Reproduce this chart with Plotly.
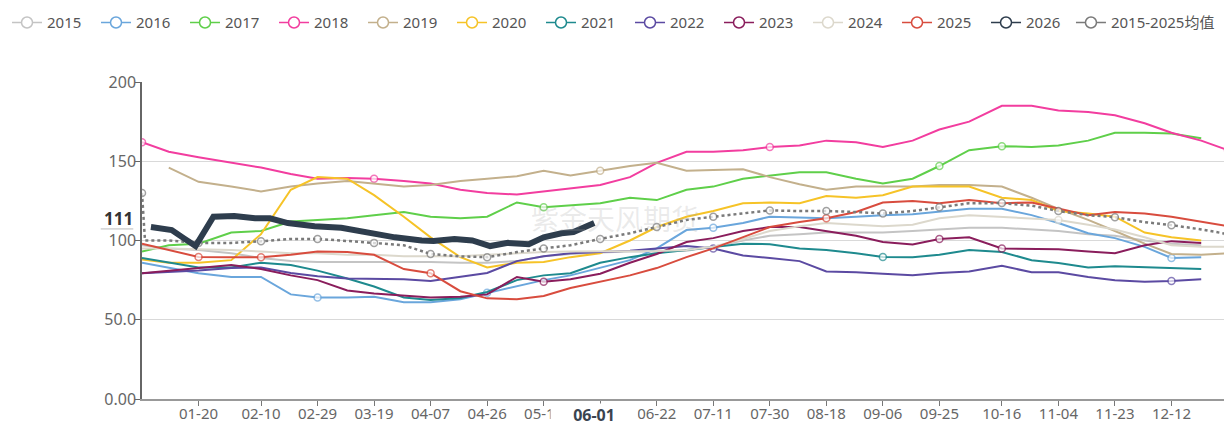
import plotly.graph_objects as go

YEAR = "2024"  # leap year used as the shared seasonal axis

DATES = ["01-01", "01-10", "01-20", "01-31", "02-10", "02-20", "02-29", "03-10", "03-19", "03-29",
         "04-07", "04-17", "04-26", "05-06", "05-15", "05-24", "06-03", "06-13", "06-22", "07-02",
         "07-11", "07-21", "07-30", "08-09", "08-18", "08-28", "09-06", "09-16", "09-25", "10-05",
         "10-16", "10-26", "11-04", "11-14", "11-23", "12-03", "12-12", "12-22", "12-31"]

S2015 = [97, 95, 94, 92, 89, 87, 86.5, 86.5, 86.5, 86.5, 86.5, 86, 86, 87, 90, 91.5, 92.5, 93, 93, 93.5,
         96, 100, 103, 104, 105, 105, 105, 106, 107, 108, 108, 107, 106, 104, 103, 100, 98, 97, None]
S2016 = [86, 83, 79.4, 77, 77, 66, 64, 64, 64.5, 61, 61, 63, 67, 71, 75, 78, 82.6, 87.6, 95, 106.6,
         108, 111, 115, 114.6, 114, 115, 116, 116.6, 118, 120, 120, 116, 111, 104.6, 101.5, 96, 89, 89.5, None]
S2017 = [93, 97, 98, 105, 106, 112, 113, 114, 116, 118, 115, 114, 115, 124, 121, 122, 123.5, 127, 125.5, 132,
         134, 139, 141, 143, 143, 139, 136, 139, 147, 157, 159.5, 159, 160, 163, 168, 168, 167.5, 164.5, None]
S2018 = [162, 156, 152.5, 149, 146, 142, 139, 139.5, 139, 137.5, 136, 132, 130, 129, 131, 133, 135, 140, 149, 156,
         156, 157, 159, 160, 163, 162, 159, 163, 170, 175, 185, 185, 182, 181, 179, 174, 168, 163, 157]
S2019 = [None, 146, 137, 134, 131, 134, 136, 137.5, 136, 134, 135, 137.5, 139, 140.5, 144, 141, 144, 147, 149, 144,
         144.5, 145, 140, 135.5, 132, 134, 134, 134, 135, 135, 134, 127, 120, 113, 106, 98, 91.5, 91, 92]
S2020 = [88, 86, 86, 87.6, 104, 132, 140, 139, 128.6, 115, 102, 89.5, 83, 86, 86.5, 89.5, 92, 100, 108.5, 115,
         118.6, 123.5, 124, 123.5, 128, 127, 128.6, 134, 134, 134, 127, 125.5, 118.6, 117, 115, 105, 102, 100, None]
S2021 = [89, 86, 83, 83, 86, 84.5, 81, 76, 71, 64, 62.5, 63.7, 67.5, 75, 78, 79.4, 86, 89.5, 92, 94,
         96, 98, 97.7, 95, 94, 92, 89.6, 89.5, 91, 94, 92.7, 87.6, 85.8, 83, 83.7, 83, 82.4, 82, None]
S2022 = [79.4, 80, 81, 82.6, 83, 79.5, 77.5, 76, 75.6, 75.5, 74.4, 77, 79.5, 87, 90, 92, 93, 93.6, 95, 96.5,
         95, 90.5, 89, 87, 80.5, 80, 79, 78, 79.5, 80.5, 84, 80, 80, 77, 75, 74, 74.4, 75.5, None]
S2023 = [79.4, 81, 82.6, 84.5, 82, 78, 75, 68.5, 66.5, 65, 64, 64.5, 66, 77, 74, 75.5, 79, 86, 91.5, 99,
         101.5, 106, 108.5, 108.5, 106, 103, 99, 97.5, 101, 102, 95, 94.6, 94.5, 93, 92, 97, 99.6, 98.5, None]
S2024 = [95, 95, 94.5, 94, 93, 92, 92, 91, 91, 90, 90, 90, 91, 92, 92.7, 93, 93, 93.3, 93.3, 94,
         96, 101, 106, 109, 111, 110, 109, 110, 114, 116, 115, 114, 113, 110, 107, 102, 97, 96, 96]
S2025 = [98, 94, 89.6, 89.5, 89.5, 91, 93, 92.7, 91, 82, 79.4, 68, 63.5, 63, 65, 70, 74, 78, 82.6, 89.5,
         95, 102, 108.5, 111.6, 114, 118, 124, 125, 123.5, 125.5, 123.5, 124, 120, 116, 118, 117, 115, 112, 109]

AVG_DATES = ["01-01", "01-02"] + DATES[1:]
AVG = [130, 100, 100, 98.5, 98.5, 99.5, 101, 101, 99.7, 98.5, 97, 91.5, 90, 89.5, 92.7, 95, 97, 101, 104.6, 108.5,
       113, 115, 117, 119, 118.6, 118.6, 118, 117, 118.6, 121, 123.5, 123.6, 122, 118.6, 116, 114.7, 111.6, 109.7,
       107, 104]

D2026 = ["01-04", "01-11", "01-15", "01-19", "01-25", "02-01", "02-08", "02-13", "02-19", "02-28", "03-08", "03-17",
         "03-26", "04-04", "04-08", "04-15", "04-21", "04-27", "05-03", "05-10", "05-15", "05-21", "05-25", "06-01"]
S2026 = [108.5, 106.6, 101.5, 96.5, 115, 115.5, 114, 114, 111, 109, 108, 104.7,
         102, 100, 99.7, 101, 100, 96.5, 98.5, 97.7, 102, 104.6, 105.3, 111]

TICK_DATES = ["01-20", "02-10", "02-29", "03-19", "04-07", "04-26", "05-15", "06-03", "06-22",
              "07-11", "07-30", "08-18", "09-06", "09-25", "10-16", "11-04", "11-23", "12-12"]
TICK_TEXT = [d if d != "06-03" else "" for d in TICK_DATES]

COLORS = {
    "2015": "#c4c4c4", "2016": "#6aa6dc", "2017": "#5fcf4a", "2018": "#f23d9f",
    "2019": "#c3b08c", "2020": "#f6c327", "2021": "#1e8a8e", "2022": "#5b4aa2",
    "2023": "#8a1d5c", "2024": "#dcd8cc", "2025": "#d84c3e", "2026": "#2e3d4d",
    "2015-2025均值": "#7a7a7a",
}

SERIES = [
    ("2015", DATES, S2015, []),
    ("2016", DATES, S2016, ["02-29", "04-26", "07-11", "12-12"]),
    ("2017", DATES, S2017, ["05-15", "09-25", "10-16"]),
    ("2018", DATES, S2018, ["01-01", "03-19", "07-30", "12-31"]),
    ("2019", DATES, S2019, ["06-03"]),
    ("2020", DATES, S2020, []),
    ("2021", DATES, S2021, ["09-06"]),
    ("2022", DATES, S2022, ["07-11", "12-12"]),
    ("2023", DATES, S2023, ["05-15", "09-25", "10-16"]),
    ("2024", DATES, S2024, ["11-04"]),
    ("2025", DATES, S2025, ["01-20", "02-10", "04-07", "08-18"]),
]


def day(d):
    return f"{YEAR}-{d}"


def add_line(fig, name, dates, values, marks, width=2, dash=None):
    color = COLORS[name]
    fig.add_trace(
        go.Scatter(
            x=[day(d) for d in dates],
            y=values,
            mode="lines+markers",
            name=name,
            showlegend=False,
            hoverinfo="skip",
            line=dict(color=color, width=width, dash=dash),
            marker=dict(
                symbol="circle",
                color="white",
                size=[7 if d in marks else 0 for d in dates],
                line=dict(color=color, width=[1.5 if d in marks else 0 for d in dates]),
            ),
        )
    )


fig = go.Figure()

for name, dates, values, marks in SERIES:
    add_line(fig, name, dates, values, marks)

add_line(fig, "2015-2025均值", AVG_DATES, AVG, ["01-01"] + TICK_DATES + ["12-31"], width=2.5, dash="dot")
add_line(fig, "2026", D2026, S2026, [], width=6)

# legend entries (thin line + hollow circle for every series);
# the long average label gets its own legend so the fixed entry width does not clip it
for name in ["2015", "2016", "2017", "2018", "2019", "2020", "2021", "2022",
             "2023", "2024", "2025", "2026", "2015-2025均值"]:
    fig.add_trace(
        go.Scatter(
            x=[None], y=[None],
            mode="lines+markers",
            name=name,
            legend="legend2" if name == "2015-2025均值" else "legend",
            line=dict(color=COLORS[name], width=1.5),
            marker=dict(symbol="circle", size=11, color="white",
                        line=dict(color=COLORS[name], width=1.5)),
        )
    )

# the page body adds an 8px offset, so the figure is 8px smaller and margins shifted
fig.update_layout(
    width=1224,
    height=418,
    margin=dict(l=134, r=4, t=74, b=27, autoexpand=False),
    paper_bgcolor="white",
    plot_bgcolor="white",
    font=dict(family="Noto Sans, Noto Sans CJK SC, sans-serif", color="#666"),
    legend=dict(
        orientation="h",
        xref="paper", yref="paper",
        x=-0.1243, y=1.239, xanchor="left", yanchor="top",
        entrywidth=44, entrywidthmode="pixels",
        itemwidth=30,
        font=dict(size=15, color="#555"),
    ),
    legend2=dict(
        orientation="h",
        xref="paper", yref="paper",
        x=0.8554, y=1.239, xanchor="left", yanchor="top",
        itemwidth=30,
        font=dict(size=15, color="#555"),
    ),
    xaxis=dict(
        type="date",
        range=[day("01-01"), day("12-31")],
        tickvals=[day(d) for d in TICK_DATES],
        ticktext=TICK_TEXT,
        ticks="outside", ticklen=5, tickcolor="#777",
        ticklabelstandoff=-5,
        showline=True, linecolor="#999", linewidth=1.5,
        showgrid=False, zeroline=False, automargin=False,
        tickfont=dict(size=15, color="#666"),
    ),
    yaxis=dict(
        range=[0, 200],
        tickvals=[0, 50, 100, 150, 200],
        ticktext=["0.00", "50.0", "100", "150", "200"],
        ticks="outside", ticklen=5, tickcolor="#666",
        ticklabelstandoff=-4,
        showline=True, linecolor="#666", linewidth=1.5,
        showgrid=True, gridcolor="#d9d9d9",
        zeroline=False, automargin=False,
        tickfont=dict(size=16, color="#666"),
    ),
    annotations=[
        dict(text="紫金天风期货", xref="paper", yref="paper", x=0.436, y=0.57,
             showarrow=False, font=dict(size=28, color="rgba(160,160,160,0.22)",
                                        family="Noto Sans CJK SC")),
        dict(text="<b>111</b>", xref="paper", yref="y", x=-0.006, y=114,
             xanchor="right", yanchor="middle", showarrow=False,
             font=dict(size=17, color="#333")),
        dict(text="<b>06-01</b>", xref="x", yref="paper", x=day("06-01"), y=0,
             xanchor="center", yanchor="top", yshift=-4, showarrow=False,
             width=84, height=19, bgcolor="white",
             font=dict(size=16, color="#3a4450")),
    ],
    shapes=[
        dict(type="line", xref="paper", yref="y", x0=-0.038, x1=-0.008, y0=107.3, y1=107.3,
             line=dict(color="#bbb", width=1)),
    ],
)

fig.write_html("out.html")
